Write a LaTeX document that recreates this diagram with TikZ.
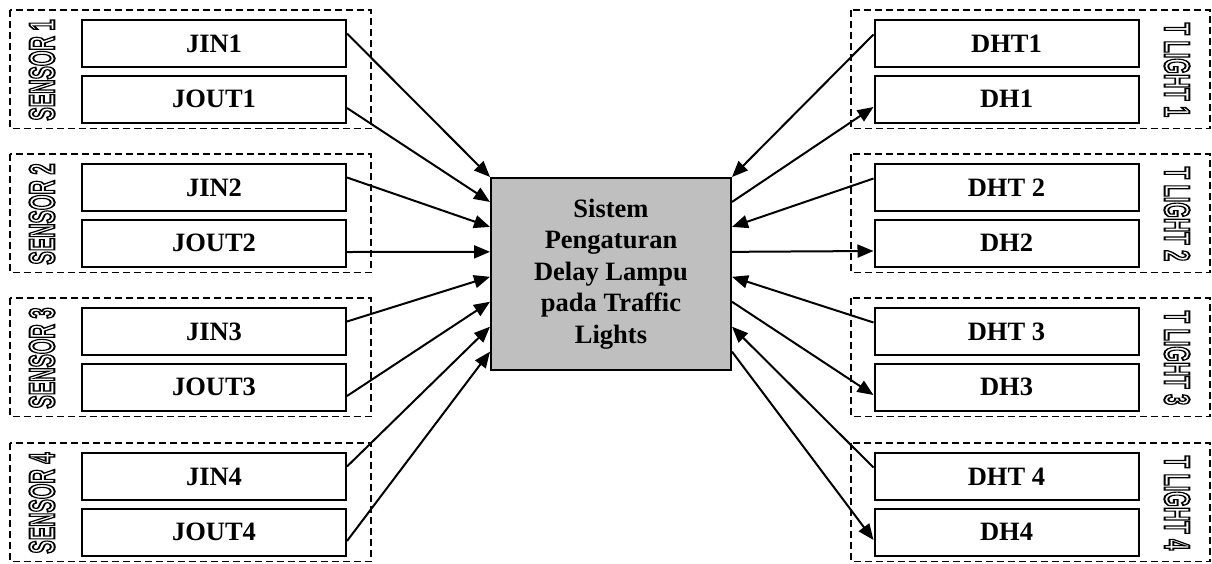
\documentclass[tikz,border=0pt]{standalone}
\usepackage{fontspec}
\setmainfont{Liberation Serif}
\setsansfont{Liberation Sans}
\usetikzlibrary{arrows.meta,calc}

\newcommand{\hollowtext}[1]{\special{pdf:literal direct 1 Tr 1.1 w}#1\special{pdf:literal direct 0 Tr}}

\tikzset{
  databox/.style={draw,line width=2pt,minimum width=264pt,minimum height=47pt,inner sep=0pt,
    font=\bfseries\fontsize{26.5}{31.5}\selectfont},
  groupbox/.style={draw,line width=1.5pt,dash pattern=on 7pt off 4pt},
  grouplabel/.style={inner sep=0pt,font=\sffamily\bfseries\fontsize{20}{20}\selectfont},
  link/.style={line width=2pt,-{Triangle[length=16pt,width=13pt]}},
}

\begin{document}
\begin{tikzpicture}[x=1pt,y=-1pt]
      \useasboundingbox (0,0) rectangle (1212,563);
      \node[draw,line width=2pt,fill=gray!50,minimum width=240pt,minimum height=192pt,
        align=center,font=\bfseries\fontsize{26.5}{31.5}\selectfont] (sys) at (611,274)
        {Sistem\\Pengaturan\\Delay Lampu\\pada Traffic\\Lights};
      % sensor groups (left) and traffic light groups (right)
      \foreach \i/\t/\d in {1/10/{DHT1},2/154/{DHT 2},3/298/{DHT 3},4/443/{DHT 4}}{
        \draw[groupbox] (10,\t) rectangle (371,\t+118.5);
        \node[databox] (jin\i) at (214,\t+33.5) {JIN\i};
        \node[databox] (jout\i) at (214,\t+89) {JOUT\i};
        \node[grouplabel,rotate=90] (sensor\i) at (42,\t+60) {\scalebox{1}[1.8]{\hollowtext{SENSOR \i}}};
        \draw[groupbox] (851,\t) rectangle (1210,\t+118.5);
        \node[databox] (dht\i) at (1006.5,\t+33.5) {\d};
        \node[databox] (dh\i) at (1006.5,\t+89) {DH\i};
        \node[grouplabel,rotate=-90] (tlight\i) at (1177,\t+60) {\scalebox{1}[1.8]{\hollowtext{T LIGHT \i}}};
      }
      \foreach \i in {1,...,4}{
        \pgfmathsetmacro{\ka}{(2*\i-2)*0.1286}
        \pgfmathsetmacro{\kb}{(2*\i-1)*0.1286}
        \draw[link] ([yshift=10pt]jin\i.east) -- ($(sys.north west)!\ka!(sys.south west)$);
        \draw[link] ([yshift=-9pt]jout\i.east) -- ($(sys.north west)!\kb!(sys.south west)$);
        \draw[link] ([yshift=9pt]dht\i.west) -- ($(sys.north east)!\ka!(sys.south east)$);
        \draw[link] ($(sys.north east)!\kb!(sys.south east)$) -- ([yshift=-8pt]dh\i.west);
      }
\end{tikzpicture}
\end{document}
